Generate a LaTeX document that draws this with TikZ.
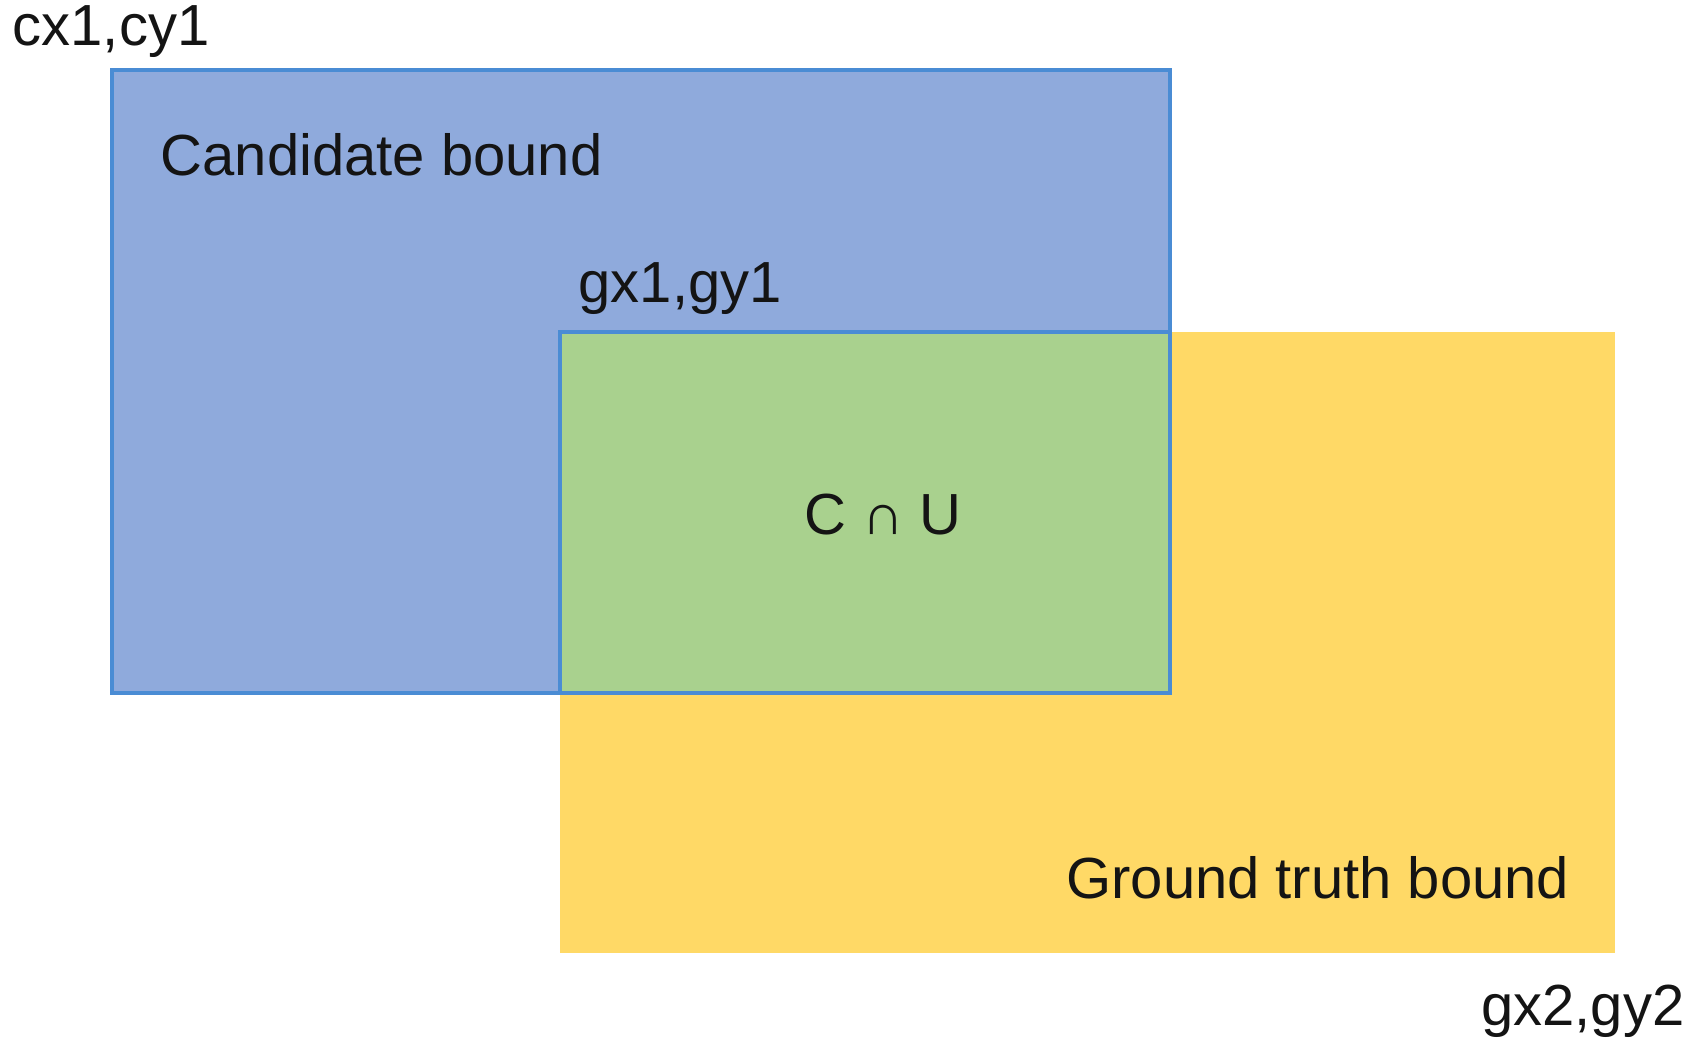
\documentclass[tikz,border=0pt]{standalone}
\usepackage{fontspec}
\setmainfont{Liberation Sans}
\usepackage{tikz}
\usetikzlibrary{positioning}
\definecolor{candfill}{HTML}{8FAADC}
\definecolor{candline}{HTML}{4A8CD4}
\definecolor{truthfill}{HTML}{FFD966}
\definecolor{overlapfill}{HTML}{A9D18E}
\tikzset{every node/.style={font=\fontsize{16.5}{19}\selectfont, inner sep=0pt, text=black!92},
    boundbox/.style={draw=candline, line width=0.9pt}}

\begin{document}
\begin{tikzpicture}
            \useasboundingbox (0,0) rectangle (16.93,-10.47);
            \coordinate (c1) at (1.12,-0.70);
            \coordinate (c2) at (11.70,-6.93);
            \coordinate (g1) at (5.60,-3.32);
            \coordinate (g2) at (16.15,-9.53);
            
            \fill[truthfill] (g1) rectangle (g2);
            \draw[boundbox, fill=candfill] (c1) rectangle (c2);
            \draw[boundbox, fill=overlapfill] (g1) rectangle (c2);
            
            \node[anchor=base west] (ncand) at (1.60,-1.75) {Candidate bound};
            \node[anchor=base east] (ntruth) at (15.70,-8.98) {Ground truth bound};
            \node (ninter) at (8.83,-5.15) {C ∩ U};
            \node[anchor=base west] (nc1) at (0.12,-0.45) {cx1,cy1};
            \node[anchor=base west] (ng1) at (5.78,-3.02) {gx1,gy1};
            \node[anchor=base east] (ng2) at (16.85,-10.25) {gx2,gy2};
        \end{tikzpicture}
\end{document}
